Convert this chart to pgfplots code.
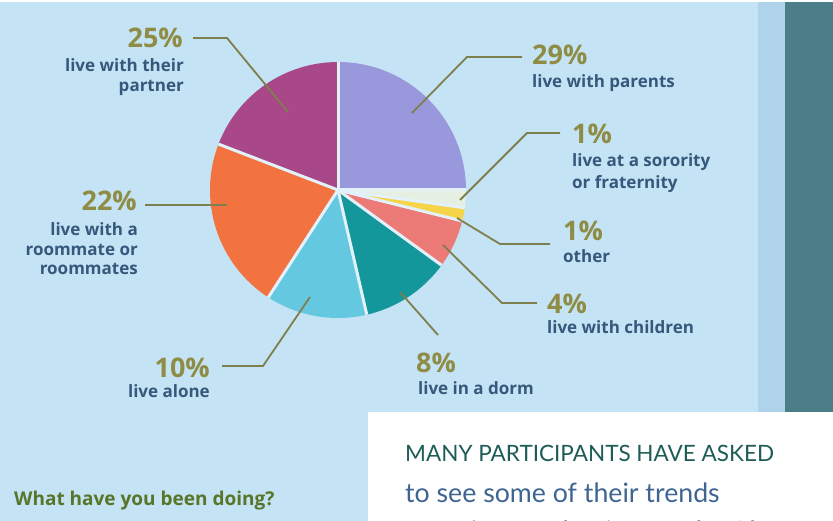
\documentclass[border=0pt]{standalone}
\usepackage{pgfplots}
\usepackage{pgfplotstable}
\pgfplotsset{compat=1.18}
\usepackage{fontspec}
\setmainfont{Open Sans}
\newfontfamily\latofont{Lato}

\definecolor{bg}{HTML}{C4E3F4}
\definecolor{stripA}{HTML}{AFD3EA}
\definecolor{stripB}{HTML}{4B7E87}
\definecolor{sepcol}{HTML}{E2F1FA}
\definecolor{cParents}{HTML}{9A98DC}
\definecolor{cSoror}{HTML}{E6F0E2}
\definecolor{cOther}{HTML}{F5D44A}
\definecolor{cChildren}{HTML}{EC7B78}
\definecolor{cDorm}{HTML}{14979A}
\definecolor{cAlone}{HTML}{64C8E1}
\definecolor{cRoom}{HTML}{F2733F}
\definecolor{cPartner}{HTML}{A84889}
\definecolor{leadcol}{HTML}{7E7F4C}
\definecolor{pctcol}{HTML}{8E8C45}
\definecolor{labcol}{HTML}{35587C}
\definecolor{qcol}{HTML}{587529}
\definecolor{headcol}{HTML}{1E5C57}
\definecolor{bodycol}{HTML}{3E6592}

% slice spans (degrees, as drawn), clockwise from the top
\pgfplotstableread{
slice span col
parents 90 cParents
sorority 8 cSoror
other 6 cOther
children 22 cChildren
dorm 41 cDorm
alone 46 cAlone
roommates 78 cRoom
partner 69 cPartner
}\piedata

\newcommand{\pct}[1]{\fontsize{27bp}{30bp}\selectfont\bfseries #1}
\newcommand{\lab}{\fontsize{17bp}{20bp}\selectfont\bfseries}

\begin{document}
\begin{tikzpicture}
\useasboundingbox (0,0) rectangle (833bp,521bp);
\def\acc{90}%
\pgfplotsforeachungrouped \i in {0,...,7}{%
  \pgfplotstablegetelem{\i}{span}\of\piedata
  \pgfmathsetmacro\endang{\acc-\pgfplotsretval}%
  \expandafter\xdef\csname sA\i\endcsname{\acc}%
  \expandafter\xdef\csname sB\i\endcsname{\endang}%
  \pgfplotstablegetelem{\i}{col}\of\piedata
  \colorlet{slicecol\i}{\pgfplotsretval}%
  \xdef\acc{\endang}%
}
\begin{axis}[x=1bp, y=1bp, xmin=0, xmax=833, ymin=0, ymax=521,
  hide axis, clip=false, anchor=south west, at={(0,0)}]
% backgrounds
\fill[bg] (axis cs:0,0) rectangle (axis cs:833,521);
\fill[white] (axis cs:0,518.5) rectangle (axis cs:833,521);
\fill[stripA] (axis cs:758,109) rectangle (axis cs:785,518.5);
\fill[stripB] (axis cs:785,109) rectangle (axis cs:833,518.5);
\fill[white] (axis cs:368,0) rectangle (axis cs:833,109);
% pie slices
\pgfplotsinvokeforeach{0,...,7}{%
  \fill[fill=slicecol#1] (axis cs:338,331) -- ++(\csname sA#1\endcsname:128bp)
     arc[start angle=\csname sA#1\endcsname, end angle=\csname sB#1\endcsname, radius=128bp] -- cycle;
}
\pgfplotsinvokeforeach{0,...,7}{%
  \draw[sepcol, line width=3bp] (axis cs:338,331) -- ++(\csname sA#1\endcsname:128bp);
}
% leader lines
\addplot[leadcol, line width=1.8bp, no marks] coordinates {(412,408) (467,464) (522,464)};
\addplot[leadcol, line width=1.8bp, no marks] coordinates {(460,321) (527,388) (560,388)};
\addplot[leadcol, line width=1.8bp, no marks] coordinates {(457,303) (500,277) (550,277)};
\addplot[leadcol, line width=1.8bp, no marks] coordinates {(443,276) (502,218) (537,218)};
\addplot[leadcol, line width=1.8bp, no marks] coordinates {(400,229) (438,186)};
\addplot[leadcol, line width=1.8bp, no marks] coordinates {(310,224) (263,155) (222,155)};
\addplot[leadcol, line width=1.8bp, no marks] coordinates {(227,316) (145,316)};
\addplot[leadcol, line width=1.8bp, no marks] coordinates {(288,409) (227,483) (193,483)};
% labels
\node[anchor=base west, inner sep=0, pctcol] at (axis cs:532,456) {\pct{29\%}};
\node[anchor=base west, inner sep=0, labcol] at (axis cs:532,433) {\lab live with parents};
\node[anchor=base west, inner sep=0, pctcol] at (axis cs:572,378) {\pct{1\%}};
\node[anchor=base west, inner sep=0, labcol] at (axis cs:572,355) {\lab live at a sorority};
\node[anchor=base west, inner sep=0, labcol] at (axis cs:572,333) {\lab or fraternity};
\node[anchor=base west, inner sep=0, pctcol] at (axis cs:563,281) {\pct{1\%}};
\node[anchor=base west, inner sep=0, labcol] at (axis cs:563,259) {\lab other};
\node[anchor=base west, inner sep=0, pctcol] at (axis cs:547,208) {\pct{4\%}};
\node[anchor=base west, inner sep=0, labcol] at (axis cs:547,188) {\lab live with children};
\node[anchor=base west, inner sep=0, pctcol] at (axis cs:416,149) {\pct{8\%}};
\node[anchor=base west, inner sep=0, labcol] at (axis cs:418,127) {\lab live in a dorm};
\node[anchor=base east, inner sep=0, pctcol] at (axis cs:210,144) {\pct{10\%}};
\node[anchor=base east, inner sep=0, labcol] at (axis cs:210,124) {\lab live alone};
\node[anchor=base east, inner sep=0, pctcol] at (axis cs:137,311) {\pct{22\%}};
\node[anchor=base east, inner sep=0, labcol] at (axis cs:138,286) {\lab live with a};
\node[anchor=base east, inner sep=0, labcol] at (axis cs:138,266) {\lab roommate or};
\node[anchor=base east, inner sep=0, labcol] at (axis cs:138,247) {\lab roommates};
\node[anchor=base east, inner sep=0, pctcol] at (axis cs:183,473) {\pct{25\%}};
\node[anchor=base east, inner sep=0, labcol] at (axis cs:184,449) {\lab live with their};
\node[anchor=base east, inner sep=0, labcol] at (axis cs:184,429) {\lab partner};
% bottom texts
\node[anchor=base west, inner sep=0, qcol] at (axis cs:14,16) {\fontsize{19bp}{22bp}\selectfont\bfseries What have you been doing?};
\node[anchor=base west, inner sep=0, headcol] at (axis cs:405,60) {\latofont\fontsize{22.5bp}{26bp}\selectfont MANY PARTICIPANTS HAVE ASKED};
\node[anchor=base west, inner sep=0, bodycol] at (axis cs:405,19) {\latofont\fontsize{26.7bp}{30bp}\selectfont to see some of their trends};
\node[anchor=base west, inner sep=0, bodycol] at (axis cs:405,-19) {\latofont\fontsize{26.7bp}{30bp}\selectfont questions and points to the About tab};
\end{axis}
\end{tikzpicture}
\end{document}
